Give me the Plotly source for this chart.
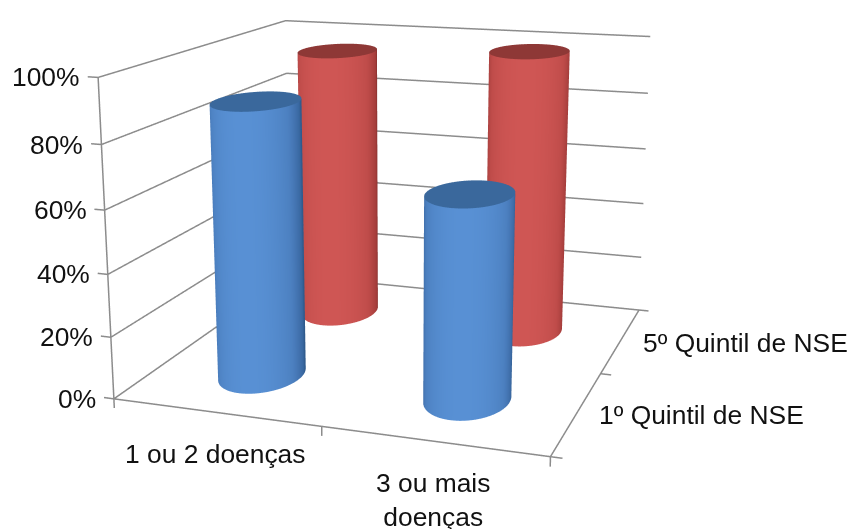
import numpy as np
import plotly.graph_objects as go

categories = ["1 ou 2 doenças", "3 ou mais<br>doenças"]
series_names = ["1º Quintil de NSE", "5º Quintil de NSE"]
first_quintile = [89, 65]
fifth_quintile = [95, 98]
z_ticks = [0, 20, 40, 60, 80, 100]
z_labels = ["0%", "20%", "40%", "60%", "80%", "100%"]

X_RANGE = [-0.1, 2.1]
Y_RANGE = [-0.1, 2.1]
Z_RANGE = [-5, 102]
UNIT_X, UNIT_Y, UNIT_Z = 0.75, 0.765, 0.0109
ASPECT = dict(x=UNIT_X * 2.2, y=UNIT_Y * 2.2, z=UNIT_Z * 107)
RADIUS_X = 0.19
RADIUS_Y = 1.4 * RADIUS_X * UNIT_X / UNIT_Y
GRID = "#8c8c8c"
PEAK = np.deg2rad(-75)


def cylinder(cx, cy, height, side_scale, cap_color):
    theta = np.linspace(0, 2 * np.pi, 181)
    zz = np.array([0.0, height])
    tt, hh = np.meshgrid(theta, zz)
    side = go.Surface(
        x=cx + RADIUS_X * np.cos(tt), y=cy + RADIUS_Y * np.sin(tt), z=hh,
        surfacecolor=np.cos(tt - PEAK),
        colorscale=side_scale, cmin=-1, cmax=1, showscale=False,
        lighting=dict(ambient=1, diffuse=0, specular=0, roughness=1, fresnel=0),
        hoverinfo="skip",
    )
    rr = np.array([0.0, 1.0])
    tc, rc = np.meshgrid(theta, rr)
    cap = go.Surface(
        x=cx + RADIUS_X * rc * np.cos(tc), y=cy + RADIUS_Y * rc * np.sin(tc),
        z=np.full_like(tc, height),
        surfacecolor=np.ones_like(tc), colorscale=[[0, cap_color], [1, cap_color]],
        showscale=False,
        lighting=dict(ambient=1, diffuse=0, specular=0, roughness=1, fresnel=0),
        hoverinfo="skip",
    )
    return [side, cap]


blue_side = [[0, "#2f5a8c"], [0.465, "#2f5a8c"], [0.535, "#38679f"], [0.65, "#4373b0"],
             [0.75, "#4c80c0"], [1, "#5890d4"]]
red_side = [[0, "#8a3230"], [0.465, "#8a3230"], [0.535, "#a33c3a"], [0.65, "#b04442"],
            [0.75, "#bf4c4a"], [1, "#cf5654"]]

fig = go.Figure()

# Walls, floor edges and tick marks
lx, ly, lz = [], [], []


def seg(*pts):
    for p in pts:
        lx.append(p[0]); ly.append(p[1]); lz.append(p[2])
    lx.append(None); ly.append(None); lz.append(None)


for t in z_ticks:
    seg((0, 0, t), (0, 2, t), (2, 2, t))
    seg((0, 0, t), (-0.05, 0, t))
seg((0, 0, 0), (0, 0, 100))
seg((0, 0, 0), (2, 0, 0), (2, 2, 0))
for v in [0, 1, 2]:
    seg((v, 0, 0), (v, 0, -3))
    seg((2, v, 0), (2.05, v, 0))
fig.add_trace(go.Scatter3d(x=lx, y=ly, z=lz, mode="lines",
                           line=dict(color=GRID, width=3), hoverinfo="skip"))

for i, (a, b) in enumerate(zip(first_quintile, fifth_quintile)):
    for tr in cylinder(i + 0.5, 1.5, b, red_side, "#8e3836"):
        fig.add_trace(tr)
    for tr in cylinder(i + 0.5, 0.5, a, blue_side, "#3a689c"):
        fig.add_trace(tr)

font = dict(family="Liberation Sans, Arial", size=26.4, color="#111111")
ann = []
for t, s in zip(z_ticks, z_labels):
    ann.append(dict(x=0, y=0, z=t, text=s, showarrow=False, xanchor="right", xshift=-16, font=font))
for i, c in enumerate(categories):
    ann.append(dict(x=i + 0.5, y=0, z=0, text=c, showarrow=False, yanchor="top",
                    xshift=0, yshift=-25, font=font))
for i, s in enumerate(series_names):
    ann.append(dict(x=2, y=i + 0.5, z=0, text=s, showarrow=False, xanchor="left",
                    xshift=20, yshift=-3, font=font))

axis = dict(showbackground=False, showgrid=False, zeroline=False, showspikes=False,
            showline=False, showticklabels=False, ticks="", title=dict(text=""))
fig.update_layout(
    width=935, height=1260, margin=dict(l=0, r=0, t=0, b=0),
    paper_bgcolor="white", showlegend=False,
    scene=dict(
        domain=dict(x=[0, 1], y=[0, 1]),
        xaxis=dict(axis, range=X_RANGE),
        yaxis=dict(axis, range=Y_RANGE),
        zaxis=dict(axis, range=Z_RANGE),
        aspectmode="manual", aspectratio=ASPECT,
        camera=dict(eye=dict(x=1.70, y=-5.0, z=1.34), center=dict(x=0.0, y=0.0, z=0.0),
                    up=dict(x=0, y=0, z=1), projection=dict(type="perspective")),
        annotations=ann,
    ),
)
# The plot is larger than the window so the 3D field of view stays narrow;
# it is moved so the scene centre sits in view.
fig.write_html("out.html", post_script="var g=document.getElementById('{plot_id}');g.style.position='relative';g.style.top='-419px';g.style.left='-69px';document.documentElement.style.overflow='hidden';")
